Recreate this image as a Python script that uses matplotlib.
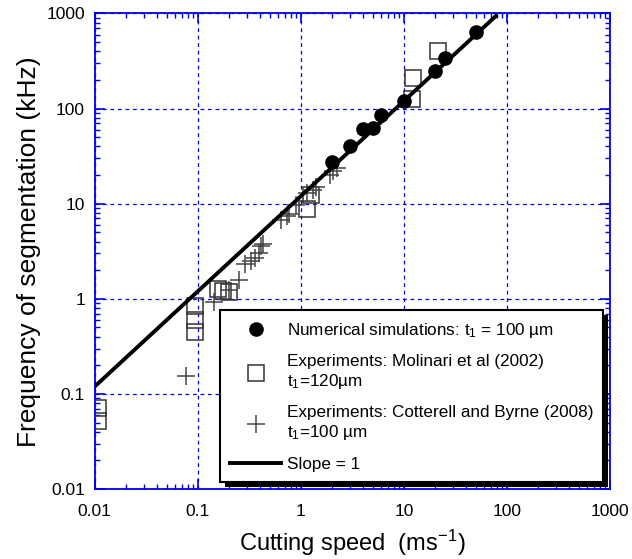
import matplotlib
matplotlib.use("Agg")
import matplotlib.pyplot as plt
from matplotlib.ticker import LogLocator, FixedLocator, FixedFormatter, NullFormatter
from matplotlib.patches import Rectangle

plt.rcParams['font.family'] = ['Liberation Sans', 'DejaVu Sans']
plt.rcParams['mathtext.fontset'] = 'custom'
plt.rcParams['mathtext.rm'] = 'Liberation Sans'
plt.rcParams['mathtext.it'] = 'Liberation Sans'
plt.rcParams['mathtext.default'] = 'regular'

# Numerical simulations (t1 = 100 um)
sim_speed = [2, 3, 4, 5, 6, 10, 20, 25, 50]
sim_freq = [27.7, 40, 61.6, 63, 86.5, 120, 247, 344, 640]

# Experiments: Molinari et al (2002)
mol_speed = [0.0108, 0.0108, 0.094, 0.094, 0.094, 0.156, 0.175, 0.203, 1.16, 1.25, 12.1, 12.4, 21.5]
mol_freq = [0.072, 0.052, 0.85, 0.60, 0.445, 1.27, 1.22, 1.19, 8.9, 12.2, 126, 210, 403]

# Experiments: Cotterell and Byrne (2008)
cb_speed = [0.076, 0.145, 0.20, 0.25, 0.29, 0.33, 0.36, 0.395, 0.41, 0.43,
            0.64, 0.74, 0.77, 0.90, 1.16, 1.30, 1.40, 1.9, 2.03, 2.25]
cb_freq = [0.156, 0.92, 1.23, 1.56, 2.3, 2.5, 2.7, 3.0, 3.6, 3.8,
           6.7, 7.5, 7.8, 9.8, 12.8, 13.8, 15.0, 20, 22, 24]

# Slope = 1 reference line
line_speed = [0.01, 78]
line_freq = [0.12, 936]

tick_vals = [0.01, 0.1, 1, 10, 100, 1000]
tick_labels = ['0.01', '0.1', '1', '10', '100', '1000']

BLUE = '#0000ee'

fig = plt.figure(figsize=(6.32, 5.59), dpi=100)
ax = fig.add_axes([0.150, 0.125, 0.815, 0.851])

ax.set_xscale('log')
ax.set_yscale('log')
ax.set_xlim(0.01, 1000)
ax.set_ylim(0.01, 1000)

ax.plot(sim_speed, sim_freq, 'o', color='black', markersize=9.5, zorder=4,
        label='Numerical simulations: t$_1$ = 100 µm')
ax.plot(mol_speed, mol_freq, 's', markerfacecolor='none', markeredgecolor='#333333',
        markersize=11, markeredgewidth=1.1, zorder=3,
        label='Experiments: Molinari et al (2002)\nt$_1$=120µm')
ax.plot(cb_speed, cb_freq, '+', color='#444444', markersize=13, markeredgewidth=1.1,
        zorder=3, label='Experiments: Cotterell and Byrne (2008)\nt$_1$=100 µm')
ax.plot(line_speed, line_freq, '-', color='black', linewidth=2.8, zorder=4,
        label='Slope = 1')

ax.xaxis.set_major_locator(FixedLocator(tick_vals))
ax.xaxis.set_major_formatter(FixedFormatter(tick_labels))
ax.yaxis.set_major_locator(FixedLocator(tick_vals))
ax.yaxis.set_major_formatter(FixedFormatter(tick_labels))
ax.xaxis.set_minor_locator(LogLocator(base=10, subs=range(2, 10), numticks=20))
ax.yaxis.set_minor_locator(LogLocator(base=10, subs=range(2, 10), numticks=20))
ax.xaxis.set_minor_formatter(NullFormatter())
ax.yaxis.set_minor_formatter(NullFormatter())

ax.tick_params(which='both', direction='in', top=True, right=True, color=BLUE,
               labelcolor='black', labelsize=12.5)
ax.tick_params(which='major', length=7, width=1.2)
ax.tick_params(axis='x', which='major', pad=11)
ax.tick_params(axis='y', which='major', pad=7)
ax.tick_params(which='minor', length=3.5, width=1.0)
for s in ax.spines.values():
    s.set_color(BLUE)
    s.set_linewidth(1.3)

ax.grid(True, which='major', color=BLUE, linestyle=(0, (3, 3)), linewidth=0.9)
ax.set_axisbelow(True)

ax.set_xlabel('Cutting speed  (ms$^{-1}$)', fontsize=17, labelpad=6)
ax.set_ylabel('Frequency of segmentation (kHz)', fontsize=19, labelpad=4)

leg = ax.legend(loc='lower left', bbox_to_anchor=(0.243, 0.015, 0.743, 0.357),
                mode='expand', fontsize=12.3, frameon=True, fancybox=False,
                edgecolor='black', framealpha=1, handlelength=3.0,
                handletextpad=0.3, borderpad=0.6, labelspacing=0.85,
                borderaxespad=0)
leg.get_frame().set_linewidth(1.5)
leg.set_zorder(10)

fig.canvas.draw()
bb = leg.get_window_extent()
shadow = Rectangle((bb.x0 + 5, bb.y0 - 5), bb.width, bb.height, transform=None,
                   facecolor='black', edgecolor='none', zorder=9)
ax.add_artist(shadow)

fig.savefig('out.png', dpi=100)
